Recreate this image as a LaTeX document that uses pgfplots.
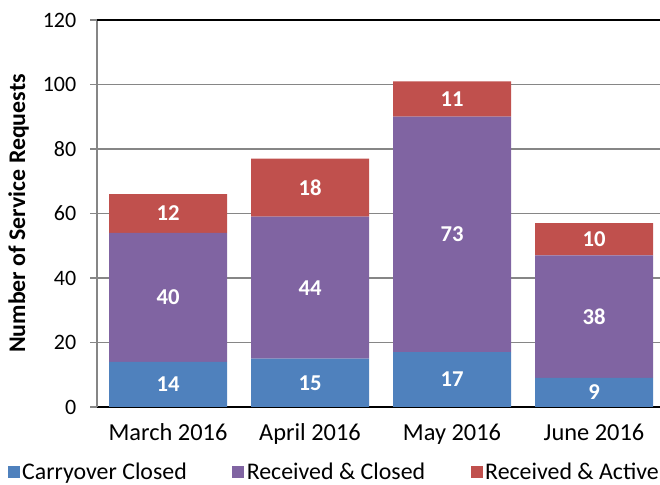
\documentclass[border=0pt]{standalone}
\usepackage{pgfplots}
\usepackage{pgfplotstable}
\pgfplotsset{compat=1.18}
\usepackage{fontspec}
\setmainfont{Carlito}
\definecolor{cblue}{HTML}{4F81BD}
\definecolor{cpurple}{HTML}{8064A2}
\definecolor{cred}{HTML}{C0504D}
\definecolor{axgray}{HTML}{868686}
\pgfplotstableread{
x c rc ra
0 14 40 12
1 15 44 18
2 17 73 11
3 9 38 10
}\data
\begin{document}
\begin{tikzpicture}
\useasboundingbox (0,0) rectangle (495pt,363.75pt);
\begin{axis}[
  at={(72.75pt,58.5pt)}, anchor=south west,
  scale only axis, width=426pt, height=290.25pt,
  ybar stacked, bar width=88.5pt,
  xmin=-0.5, xmax=3.5, ymin=0, ymax=120,
  xtick={0,1,2,3}, xticklabels={March 2016,April 2016,May 2016,June 2016},
  ytick={0,20,...,100}, extra y ticks={120},
  extra y tick style={grid style={black,line width=1.5pt}},
  axis x line*=bottom, axis y line*=left,
  x axis line style={black,line width=1.5pt,-},
  y axis line style={axgray,line width=2pt,-},
  ymajorgrids, grid style={axgray,line width=1.2pt},
  major x tick style={draw=none},
  major y tick style={axgray,line width=1.2pt},
  ytick align=outside, major tick length=5pt,
  /pgf/number format/assume math mode=true,
  tick label style={font=\fontsize{16.5}{18}\selectfont},
  xticklabel style={font=\fontsize{18.3}{20}\selectfont, yshift=-9pt},
  yticklabel style={xshift=-7pt},
  ylabel={\textbf{Number of Service Requests}},
  ylabel style={font=\fontsize{17.9}{20}\selectfont, at={(axis description cs:-0.138,0.5)}, anchor=center},
  point meta=explicit symbolic,
  nodes near coords={\pgfplotspointmeta},
  every node near coord/.append style={font=\bfseries\fontsize{17}{20}\selectfont, text=white, anchor=center},
  legend style={at={(axis description cs:-0.158,-0.168)}, anchor=west, draw=none, fill=none,
    legend columns=3, font=\fontsize{17.9}{20}\selectfont,
    /tikz/every even column/.append style={column sep=32pt},
    inner sep=0pt},
  legend cell align=left,
  legend image code/.code={\fill[#1] (0pt,-4.5pt) rectangle (9pt,4.5pt);},
]
\addplot[fill=cblue, draw=none] table[x=x, y=c, meta=c] {\data};
\addplot[fill=cpurple, draw=none] table[x=x, y=rc, meta=rc] {\data};
\addplot[fill=cred, draw=none] table[x=x, y=ra, meta=ra] {\data};
\legend{Carryover Closed, Received \& Closed, Received \& Active}
\end{axis}
\end{tikzpicture}
\end{document}
